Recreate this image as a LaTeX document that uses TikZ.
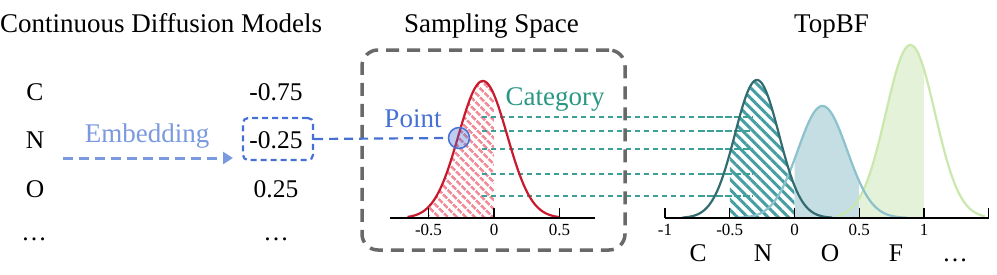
\documentclass[tikz,border=0pt]{standalone}
\usepackage{fontspec}
\setmainfont{Liberation Serif}
\usetikzlibrary{patterns.meta,arrows.meta}
\definecolor{ptblue}{RGB}{70,112,212}
\definecolor{embblue}{RGB}{122,153,222}
\definecolor{catteal}{RGB}{42,150,132}
\definecolor{lineteal}{RGB}{60,160,150}
\definecolor{redc}{RGB}{200,25,45}
\definecolor{redh}{RGB}{242,140,152}
\definecolor{ncurve}{RGB}{50,108,112}
\definecolor{nhatch}{RGB}{70,158,162}
\definecolor{ocurve}{RGB}{140,194,204}
\definecolor{ofill}{RGB}{196,222,228}
\definecolor{fcurve}{RGB}{202,232,172}
\definecolor{ffill}{RGB}{228,242,218}
\definecolor{boxgray}{RGB}{105,105,105}
\begin{document}
\begin{tikzpicture}[x=1pt,y=-1pt,
  lbl/.style={inner sep=0pt, anchor=base, font=\fontsize{27}{31}\selectfont},
  val/.style={inner sep=0pt, anchor=base, font=\fontsize{25.5}{30}\selectfont},
  ticklbl/.style={inner sep=0pt, anchor=base, font=\fontsize{17}{20}\selectfont},
  axisline/.style={line width=1.4pt, black},
  tickmark/.style={line width=1.4pt, black},
  curve/.style={line width=2.2pt},
  embarrow/.style={embblue, line width=3pt, dash pattern=on 10pt off 6pt, -{Triangle[length=10pt,width=12pt]}},
  bluedash/.style={ptblue, line width=2.2pt, dash pattern=on 9pt off 6pt},
  tealdash/.style={lineteal, line width=1.3pt, dash pattern=on 5pt off 4pt},
  valbox/.style={draw=ptblue, line width=2.2pt, dash pattern=on 6pt off 4pt, rounded corners=5pt, minimum width=70pt, minimum height=42pt, inner sep=0pt},
  spacebox/.style={draw=boxgray, line width=3.5pt, dash pattern=on 13pt off 8pt, rounded corners=16pt, minimum width=263pt, minimum height=200pt, inner sep=0pt},
  pointdot/.style={circle, draw=ptblue, line width=1.5pt, fill=ptblue, fill opacity=0.35, draw opacity=1, minimum size=21pt, inner sep=0pt}
]
\useasboundingbox (0,0) rectangle (997,274);

% titles
\node[lbl, anchor=base west] (t1) at (0,32) {Continuous Diffusion Models};
\node[lbl] (t2) at (491.5,32) {Sampling Space};
\node[lbl] (t3) at (831.5,32) {TopBF};

% left column
\node[val] (lc) at (35,100) {C};
\node[val] (ln) at (35,148) {N};
\node[val] (lo) at (35,197) {O};
\node[val] (ld) at (34,240) {…};
% right column
\node[val] (rc) at (276,100) {-0.75};
\node[val] (rn) at (276,148) {-0.25};
\node[val] (ro) at (276,197) {0.25};
\node[val] (rd) at (276,240) {…};

% embedding
\node[lbl, text=embblue] (emb) at (147,142) {Embedding};
\coordinate (ea) at (63,158);
\coordinate (eb) at (233,158);
\draw[embarrow] (ea) -- (eb);

\node[valbox] (vbox) at (278,139) {};

% sampling space
\fill[pattern={Lines[angle=-45,distance=6.5pt,line width=2.8pt]}, pattern color=redh]
  (428.5,218) -- plot[domain=-0.5:0, samples=60] ({494+131*\x},{218-137*exp(0-((\x+0.085)^2)/0.06845)}) -- (494,218) -- cycle;

\foreach \yy [count=\i] in {117,131,149,174,196}{
  \coordinate (ca\i) at (482,\yy);
  \coordinate (cb\i) at (753,\yy);
  \draw[tealdash] (ca\i) -- (cb\i);
}

\draw[curve, redc] plot[domain=-0.66:0.5, samples=120] ({494+131*\x},{218-137*exp(0-((\x+0.085)^2)/0.06845)});

\draw[axisline] (390,218) -- (595,218);
\foreach \xx/\tl in {428.5/-0.5, 494/0, 559.5/0.5}{
  \draw[tickmark] (\xx,218) -- (\xx,208);
  \node[ticklbl] at (\xx,235) {\tl};
}

\node[spacebox] (sbox) at (493.5,150) {};

\node[lbl, text=ptblue] (pointlbl) at (413,127) {Point};
\node[lbl, text=catteal] (catlbl) at (555,105) {Category};

\node[pointdot] (pt) at (459,138) {};
\draw[bluedash] (vbox.east) -- (pt.west);

% TopBF
\fill[ffill] (859.25,218) -- plot[domain=0.5:1, samples=60] ({794.5+129.5*\x},{218-173*exp(0-((\x-0.895)^2)/0.0722)}) -- (924,218) -- cycle;
\fill[ofill] (794.5,218) -- plot[domain=0:0.5, samples=60] ({794.5+129.5*\x},{218-112*exp(0-((\x-0.216)^2)/0.0722)}) -- (859.25,218) -- cycle;
\fill[pattern={Lines[angle=-45,distance=7.2pt,line width=3pt]}, pattern color=nhatch]
  (729.75,218) -- plot[domain=-0.5:0, samples=60] ({794.5+129.5*\x},{218-138*exp(0-((\x+0.29)^2)/0.0578)}) -- (794.5,218) -- cycle;
\foreach \yy [count=\i] in {117,131,149,174,196}{
  \draw[tealdash] (700,\yy) -- (cb\i);
}

\draw[curve, fcurve] plot[domain=0.33:1.47, samples=120] ({794.5+129.5*\x},{218-173*exp(0-((\x-0.895)^2)/0.0722)});
\draw[curve, ocurve] plot[domain=-0.44:0.87, samples=120] ({794.5+129.5*\x},{218-112*exp(0-((\x-0.216)^2)/0.0722)});
\draw[curve, ncurve] plot[domain=-0.865:0.29, samples=120] ({794.5+129.5*\x},{218-138*exp(0-((\x+0.29)^2)/0.0578)});

\draw[axisline] (665,218) -- (989,218);
\foreach \xx/\tl in {665/-1, 729.75/-0.5, 794.5/0, 859.25/0.5, 924/1, 988.75/{}}{
  \draw[tickmark] (\xx,218) -- (\xx,208);
  \node[ticklbl] at (\xx,235) {\tl};
}

\node[val] (bc) at (698,261) {C};
\node[val] (bn) at (763,261) {N};
\node[val] (bo) at (830,261) {O};
\node[val] (bf) at (896,261) {F};
\node[val] (bd) at (955,261) {…};
\end{tikzpicture}
\end{document}
